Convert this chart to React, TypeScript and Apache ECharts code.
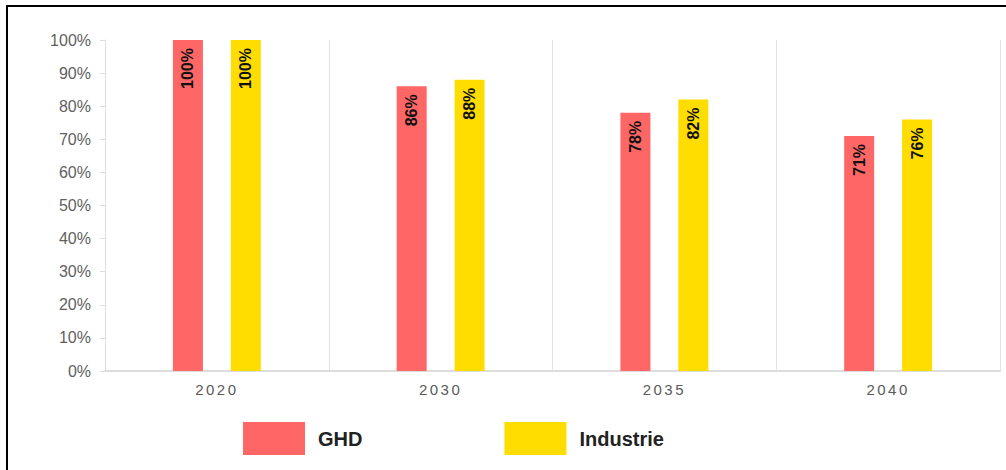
import React, { useEffect, useRef } from "react";
import * as echarts from "echarts";

const categories = ["2020", "2030", "2035", "2040"];
const ghdValues = [100, 86, 78, 71];
const industrieValues = [100, 88, 82, 76];
const seriesNames = ["GHD", "Industrie"];
const colors = ["#FF6666", "#FFDD00"];

export default function App() {
  const ref = useRef<HTMLDivElement>(null);
  useEffect(() => {
    if (!ref.current) return;
    const chart = echarts.init(ref.current, undefined, { renderer: "svg" });
    const labelCfg = {
      show: true,
      position: "insideTop",
      rotate: 90,
      align: "right",
      verticalAlign: "middle",
      distance: 8,
      formatter: "{c}%",
      color: "#111",
      fontWeight: "bold",
      fontSize: 16,
      fontFamily: "Liberation Sans, Arial, sans-serif",
    };
    chart.setOption({
      animation: false,
      textStyle: { fontFamily: "Liberation Sans, Arial, sans-serif" },
      graphic: [
        {
          type: "rect",
          shape: { x: 7, y: 6, width: 1200, height: 700 },
          style: { fill: "none", stroke: "#000", lineWidth: 2 },
          silent: true,
        },
      ],
      grid: { left: 105, right: 6, top: 40, bottom: 99, containLabel: false },
      legend: {
        left: 238,
        top: 417,
        itemWidth: 62,
        itemHeight: 33,
        itemGap: 142,
        icon: "rect",
        data: seriesNames,
        textStyle: {
          fontSize: 20,
          fontWeight: "bold",
          color: "#222",
          padding: [0, 0, 0, 8],
        },
      },
      xAxis: {
        type: "category",
        data: categories,
        axisLine: { lineStyle: { color: "#dddddd", width: 2 } },
        axisTick: { show: false },
        axisLabel: { color: "#5a5a5a", fontSize: 15, margin: 11 },
        splitLine: { show: true, lineStyle: { color: "#e3e3e3", width: 1 } },
      },
      yAxis: {
        type: "value",
        min: 0,
        max: 100,
        interval: 10,
        axisLine: { show: true, lineStyle: { color: "#dddddd" } },
        axisTick: { show: true, length: 5, lineStyle: { color: "#dddddd" } },
        axisLabel: { color: "#5f5f5f", fontSize: 16, formatter: "{value}%", margin: 14 },
        splitLine: { show: false },
      },
      series: [
        {
          name: seriesNames[0],
          type: "bar",
          data: ghdValues,
          barWidth: 30,
          barGap: "93%",
          itemStyle: { color: colors[0] },
          label: labelCfg,
        },
        {
          name: seriesNames[1],
          type: "bar",
          data: industrieValues,
          barWidth: 30,
          itemStyle: { color: colors[1] },
          label: labelCfg,
        },
      ],
    });
    // letter spacing on x-axis year labels
    const texts = ref.current.querySelectorAll("text");
    texts.forEach((t) => {
      if (categories.includes((t.textContent || "").trim())) {
        t.setAttribute("letter-spacing", "2.5");
      }
    });
    return () => chart.dispose();
  }, []);
  return (
    <div
      ref={ref}
      style={{ position: "fixed", left: 0, top: 0, width: 1006, height: 470, background: "#fff" }}
    />
  );
}
